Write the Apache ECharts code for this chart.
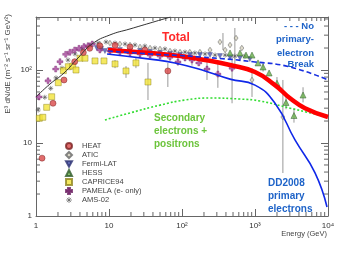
<!DOCTYPE html>
<html><head><meta charset="utf-8">
<script src="https://cdn.jsdelivr.net/npm/echarts@6/dist/echarts.min.js"></script>
<style>html,body{margin:0;padding:0;background:#fff}#c{width:349px;height:262px}</style>
</head><body><div id="c"></div>
<script>
// ---- axis ranges / tick labels ----
const xRange = [1, 10000];
const yRange = [1, 532];
const xTickLabels = {1:'1', 10:'10', 100:'10\u00b2', 1000:'10\u00b3', 10000:'10\u2074'};
const yTickLabels = {1:'1', 10:'10', 100:'10\u00b2'};
const xMinorTicks = [2,3,4,5,6,7,8,9,20,30,40,50,60,70,80,90,200,300,400,500,600,700,800,900,2000,3000,4000,5000,6000,7000,8000,9000];
const yMinorTicks = [2,3,4,5,6,7,8,9,20,30,40,50,60,70,80,90,200,300,400,500];

// ---- data points [E (GeV), E^3 dN/dE] ----
const heat = [[1.21,6.2],[1.71,35],[2.42,73],[3.39,130],[4.45,173],[5.44,198],[7.5,214],[12.1,218],[19.4,207],[31,188],[64,97]];
const atic = [[7.5,226],[10.3,234],[14.1,227],[19.4,220],[26.6,207],[36.5,200],[50,194],[68.5,182],[94,176],[128,176],[176,176],[242,188],[331,242],[390,188],[455,220],[550,274],[660,200],[910,73],[2410,22.7]];
const fermi = [[6.8,200],[7.8,194],[8.8,182],[10.3,188],[14.1,188],[19.4,182],[26.6,182],[36.5,176],[50,171],[68.5,166],[94,160],[128,160],[176,160],[242,160],[331,155],[455,150],[623,146],[850,141]];
const hess = [[455,171],[623,171],[753,160],[910,160],[1100,125],[1290,110],[1560,91],[2000,66],[2660,35.9],[3420,23.8],[4550,45.4]];
const caprice = [[1.11,21.8],[1.24,22.5],[1.40,30.8],[1.64,43],[2.02,67],[2.37,98],[2.77,111],[3.18,113],[3.53,100],[4.01,145],[4.69,145],[6.43,133],[8.54,133],[12.1,121],[17.1,97],[23.4,125],[34.2,68.5]];
const pamela = [[1.1,42.7],[1.46,71],[1.86,103],[2.13,130],[2.55,164],[2.92,175],[3.39,188],[3.88,198],[4.54,209],[5.16,215],[5.9,227],[7.5,188],[10.3,182],[14.1,176],[19.4,171],[26.6,166],[36.5,160],[50,155],[68.5,150],[88,129],[110,146],[137,137],[170,125],[220,103],[310,88],[485,106]];
const ams = [[1.07,28.3],[1.32,42.3],[1.59,56],[1.88,78],[2.27,106],[2.74,137],[3.42,166],[4.27,194],[5.49,220],[7.07,234],[9.1,242],[12.1,234],[16.6,227],[22.7,220],[31,213],[42.6,200],[58.4,194],[80,182],[110,176],[150,171],[207,166],[284,160],[390,160],[530,155],[730,155]];

// ---- error bars [E, low, high] ----
const errorBars = [[12.1,106,137],[17.1,78,113],[23.4,106,151],[34.2,38.8,125],[64,58.5,125],[88,115,146],[137,115,176],[220,73,129],[310,57,137],[485,35,160],[364,188,321],[530,120,376],[910,42.7,106],[2410,3.88,73],[2660,29,45],[3420,19,30],[4550,36,58],[1290,95,128],[2000,55,80]];

// ---- model curves ----
const curveBlack = [[1,42.7],[1.555,64.3],[2.42,91],[3.76,146],[5.85,227],[10.3,302],[19.4,365],[36.5,440],[62.3,515],[70,532]];
const curveTotal = [[9.7,188],[36.5,171],[94,156],[207,137],[455,117],[1000,94],[1880,62],[3020,41],[4840,30],[10000,22.7]];
const curveNoBreak = [[9.7,182],[36.5,166],[176,151],[1000,129],[3020,110],[10000,73]];
const curveDD2008 = [[9.4,166],[36.5,141],[80,125],[207,97],[455,75],[1000,62],[1880,35],[3530,11],[6640,3.9],[9690,1.33]];
const curveSecondary = [[8.8,20.7],[19.4,25.8],[50,33],[110,38.8],[242,41.3],[623,40],[1170,37.6],[3020,30],[10000,22.7]];

const legendNames = ['HEAT','ATIC','Fermi-LAT','HESS','CAPRICE94','PAMELA (e- only)','AMS-02'];

const FONT = 'Liberation Sans, Arial, sans-serif';
const AMS_SYMBOL = 'path://M5,0V10M0,5H10M1.5,1.5L8.5,8.5M8.5,1.5L1.5,8.5';
const chart = echarts.init(document.getElementById('c'), null, {renderer:'canvas'});

function lbl(map){ return function(v){ const k = Math.round(v); return (Math.abs(v-k)<1e-6 && map[k]!==undefined) ? map[k] : ''; }; }
const axisLine = {show:true, lineStyle:{color:'#666', width:1}};

function lineSeries(name, data, color, width, type, z){
  return {name, type:'line', data, symbol:'none', smooth:true, xAxisIndex:0, yAxisIndex:0,
    lineStyle:{color, width, type}, z, silent:true, clip:true};
}

const option = {
  animation:false,
  grid:{left:36, right:21, top:17, bottom:46},
  xAxis:[
    {type:'log', logBase:10, min:xRange[0], max:xRange[1], position:'bottom',
     axisLine, axisTick:{inside:true, length:7, lineStyle:{color:'#666'}}, splitLine:{show:false},
     axisLabel:{formatter:lbl(xTickLabels), fontSize:8, color:'#333', margin:6, fontFamily:FONT}},
    {type:'log', logBase:10, min:xRange[0], max:xRange[1], position:'top',
     axisLine, axisTick:{inside:true, length:7, lineStyle:{color:'#666'}}, splitLine:{show:false}, axisLabel:{show:false}}
  ],
  yAxis:[
    {type:'log', logBase:10, min:yRange[0], max:yRange[1], position:'left',
     axisLine, axisTick:{inside:true, length:7, lineStyle:{color:'#666'}}, splitLine:{show:false},
     axisLabel:{formatter:lbl(yTickLabels), fontSize:8, color:'#333', margin:4, fontFamily:FONT, showMaxLabel:false}},
    {type:'log', logBase:10, min:yRange[0], max:yRange[1], position:'right',
     axisLine, axisTick:{inside:true, length:7, lineStyle:{color:'#666'}}, splitLine:{show:false}, axisLabel:{show:false}}
  ],
  legend:{orient:'vertical', left:65, top:141.5, padding:0, itemWidth:6, itemHeight:6, itemGap:0,
    textStyle:{fontSize:7.5, lineHeight:9, color:'#444', fontFamily:FONT, padding:[0,0,0,5]},
    data:legendNames.map(n => n==='AMS-02' ? {name:n, icon:AMS_SYMBOL, itemStyle:{color:'rgba(0,0,0,0)', borderColor:'#555', borderWidth:0.8}} : n),
    selectedMode:false},
  graphic:[
    {type:'text', x:8, y:64, rotation:Math.PI/2, style:{text:'E\u00b3 dN/dE (m\u207b\u00b2 s\u207b\u00b9 sr\u207b\u00b9 GeV\u00b2)', font:'8px '+FONT, fill:'#444', textAlign:'center', textVerticalAlign:'middle'}},
    {type:'text', x:327, y:234, style:{text:'Energy (GeV)', font:'7.5px '+FONT, fill:'#444', textAlign:'right', textVerticalAlign:'middle'}},
    {type:'text', x:162, y:38, style:{text:'Total', font:'bold 12px '+FONT, fill:'#ff2a2a', textAlign:'left', textVerticalAlign:'middle'}},
    {type:'text', x:314, y:26, style:{text:'- - - No', font:'bold 9.5px '+FONT, fill:'#1e63c8', textAlign:'right', textVerticalAlign:'middle'}},
    {type:'text', x:314, y:39, style:{text:'primary-', font:'bold 9.5px '+FONT, fill:'#1e63c8', textAlign:'right', textVerticalAlign:'middle'}},
    {type:'text', x:314, y:53, style:{text:'electron', font:'bold 9.5px '+FONT, fill:'#1e63c8', textAlign:'right', textVerticalAlign:'middle'}},
    {type:'text', x:314, y:64, style:{text:'Break', font:'bold 9.5px '+FONT, fill:'#1e63c8', textAlign:'right', textVerticalAlign:'middle'}},
    {type:'text', x:154, y:118, style:{text:'Secondary', font:'bold 10px '+FONT, fill:'#6cc43c', textAlign:'left', textVerticalAlign:'middle'}},
    {type:'text', x:154, y:131, style:{text:'electrons +', font:'bold 10px '+FONT, fill:'#6cc43c', textAlign:'left', textVerticalAlign:'middle'}},
    {type:'text', x:154, y:144, style:{text:'positrons', font:'bold 10px '+FONT, fill:'#6cc43c', textAlign:'left', textVerticalAlign:'middle'}},
    {type:'text', x:268, y:183, style:{text:'DD2008', font:'bold 10px '+FONT, fill:'#1e63c8', textAlign:'left', textVerticalAlign:'middle'}},
    {type:'text', x:268, y:196, style:{text:'primary', font:'bold 10px '+FONT, fill:'#1e63c8', textAlign:'left', textVerticalAlign:'middle'}},
    {type:'text', x:268, y:209, style:{text:'electrons', font:'bold 10px '+FONT, fill:'#1e63c8', textAlign:'left', textVerticalAlign:'middle'}}
  ],
  series:[
    {type:'custom', silent:true, clip:false, z:1, data:xMinorTicks.map(v=>[v,yRange[0]]),
     renderItem:function(p,api){ const b=api.coord([api.value(0), yRange[0]]); const t=api.coord([api.value(0), yRange[1]]);
       return {type:'group', children:[
         {type:'line', shape:{x1:b[0],y1:b[1],x2:b[0],y2:b[1]-4}, style:{stroke:'#666', lineWidth:1}},
         {type:'line', shape:{x1:t[0],y1:t[1],x2:t[0],y2:t[1]+4}, style:{stroke:'#666', lineWidth:1}}]}; }},
    {type:'custom', silent:true, clip:false, z:1, data:yMinorTicks.map(v=>[xRange[0],v]),
     renderItem:function(p,api){ const l=api.coord([xRange[0], api.value(1)]); const r=api.coord([xRange[1], api.value(1)]);
       return {type:'group', children:[
         {type:'line', shape:{x1:l[0],y1:l[1],x2:l[0]+4,y2:l[1]}, style:{stroke:'#666', lineWidth:1}},
         {type:'line', shape:{x1:r[0],y1:r[1],x2:r[0]-4,y2:r[1]}, style:{stroke:'#666', lineWidth:1}}]}; }},
    {type:'custom', silent:true, z:2, data:errorBars, encode:{x:0, y:[1,2]},
     renderItem:function(p,api){ const a=api.coord([api.value(0), api.value(1)]); const b=api.coord([api.value(0), api.value(2)]);
       return {type:'line', shape:{x1:a[0],y1:a[1],x2:b[0],y2:b[1]}, style:{stroke:'#999', lineWidth:1}}; }},
    {name:'AMS-02', type:'scatter', data:ams, symbol:AMS_SYMBOL, symbolSize:5,
     itemStyle:{color:'rgba(0,0,0,0)', borderColor:'#555', borderWidth:0.8}, z:3},
    {name:'ATIC', type:'scatter', data:atic, symbol:'diamond', symbolSize:[4,5.5],
     itemStyle:{color:'#d8d4c0', borderColor:'#666', borderWidth:0.7}, z:3},
    {name:'Fermi-LAT', type:'scatter', data:fermi, symbol:'path://M0,0H10L5,9Z', symbolSize:5,
     itemStyle:{color:'#4a55b0', borderColor:'#2a3070', borderWidth:0.4}, z:3},
    {name:'PAMELA (e- only)', type:'scatter', data:pamela, symbol:'path://M3.3,0H6.7V3.3H10V6.7H6.7V10H3.3V6.7H0V3.3H3.3Z', symbolSize:6,
     itemStyle:{color:'#a5429a', borderColor:'#6a2062', borderWidth:0.4}, z:3},
    {name:'CAPRICE94', type:'scatter', data:caprice, symbol:'rect', symbolSize:6,
     itemStyle:{color:'#f2e43a', borderColor:'#8e8420', borderWidth:0.6}, z:3},
    {name:'HEAT', type:'scatter', data:heat, symbol:'circle', symbolSize:6,
     itemStyle:{color:'#d94848', borderColor:'#7a2222', borderWidth:0.6}, z:3},
    {name:'HESS', type:'scatter', data:hess, symbol:'triangle', symbolSize:6,
     itemStyle:{color:'#6ab04c', borderColor:'#2f5a2a', borderWidth:0.6}, z:3},
    lineSeries('black', curveBlack, '#333', 1, 'solid', 4),
    lineSeries('secondary', curveSecondary, '#33dd33', 1.6, [2,2], 4),
    lineSeries('dd2008', curveDD2008, '#1028e8', 1.6, 'solid', 5),
    lineSeries('total', curveTotal, '#ff0000', 4.5, 'solid', 6),
    lineSeries('nobreak', curveNoBreak, '#1830e0', 1.6, [5,3], 7)
  ]
};
chart.setOption(option);
</script></body></html>
